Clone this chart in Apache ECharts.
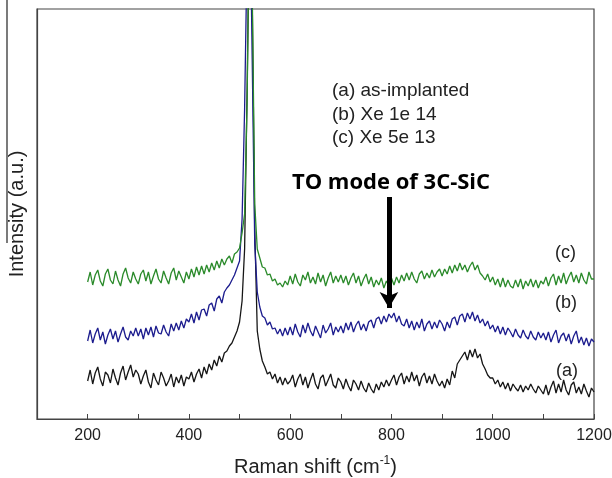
<!DOCTYPE html>
<html>
<head>
<meta charset="utf-8">
<script src="https://cdn.jsdelivr.net/npm/echarts@6/dist/echarts.min.js"></script>
<style>
  html, body { margin: 0; padding: 0; background: #fff; }
  #chart { width: 612px; height: 478px; }
</style>
</head>
<body>
<div id="chart"></div>
<script>
// Raman shift sampling grid (cm-1)
var shiftStart = 200;
var shiftStep = 5;

// intensities (a.u.), one value per 5 cm-1 from 200 to 1200
var specA = [
  38,49,35,46,52,40,33,47,44,36,50,41,34,46,53,39,47,54,42,49,
  45,35,43,49,37,31,46,39,34,47,41,33,38,45,32,42,36,44,33,42,
  40,47,37,45,50,41,52,45,55,49,59,53,63,57,66,68,73,76,82,88,
  97,118,170,330,520,420,190,88,70,58,52,45,47,40,45,36,42,34,41,35,
  38,44,32,40,45,34,42,31,39,46,35,30,41,44,33,39,45,34,31,41,
  37,30,40,33,28,39,35,29,38,31,27,36,30,26,35,29,37,32,39,33,
  39,44,34,42,46,35,43,37,47,38,44,33,42,46,36,43,35,45,38,33,
  38,31,40,34,48,41,55,59,63,67,59,69,62,70,61,65,55,50,44,41,
  41,35,39,32,37,30,36,28,35,31,28,34,27,33,29,35,30,26,33,29,
  25,34,24,32,38,26,35,27,39,29,24,34,37,26,32,25,35,28,22,31,
  27
];
var specB = [
  78,89,76,85,91,79,87,75,84,90,80,88,77,85,92,82,79,88,83,91,
  83,90,80,91,84,92,82,93,86,85,94,87,83,95,88,96,89,98,91,100,
  97,105,96,107,99,109,110,103,114,116,108,120,123,116,127,131,134,139,144,151,
  158,200,310,470,540,360,175,127,112,103,101,94,97,90,91,85,90,83,91,84,
  92,84,95,87,82,94,86,96,88,83,93,87,81,94,86,90,96,84,92,87,
  93,86,96,89,97,87,94,98,89,95,88,97,99,91,100,102,95,103,97,105,
  101,106,97,103,95,93,100,91,98,89,97,91,100,88,95,98,90,97,91,99,
  95,88,97,91,100,102,94,103,105,97,106,100,107,98,104,96,100,93,98,90,
  94,87,93,85,92,84,91,87,82,90,84,81,89,83,80,88,82,79,87,81,
  86,79,87,77,84,89,76,83,86,78,85,75,83,88,76,82,74,81,73,80,
  77
];
var specC = [
  137,147,134,144,149,138,133,145,150,139,135,148,139,133,145,151,141,136,147,140,
  135,145,149,138,147,135,143,150,140,136,148,141,135,146,151,139,148,142,136,147,
  140,150,142,152,144,153,145,154,147,156,149,158,151,160,154,160,163,156,165,167,
  171,186,205,320,540,430,215,170,161,152,151,144,145,138,140,134,136,132,138,134,
  143,135,145,137,133,144,139,147,136,142,135,146,137,144,133,141,147,136,143,137,
  144,136,143,134,141,146,136,143,133,140,145,135,142,132,139,134,141,131,138,133,
  141,134,142,136,144,138,146,139,147,140,136,145,148,140,146,141,149,142,147,150,
  143,150,145,153,146,154,148,156,149,154,147,153,157,149,154,146,143,139,145,137,
  142,134,140,132,141,132,139,133,131,139,132,140,130,138,133,140,132,139,131,138,
  135,142,133,141,145,134,143,136,146,135,142,147,137,144,136,146,139,135,147,140,
  140
];

var sampleNames = ['(a) as-implanted', '(b) Xe 1e 14', '(c) Xe 5e 13'];
var curveTags = ['(a)', '(b)', '(c)'];
var arrowShift = 795;
var arrowFrom = 222;
var arrowTo = 111;

function pairs(vals) {
    var d = [];
    for (var i = 0; i < vals.length; i++) {
        d.push([shiftStart + i * shiftStep, vals[i]]);
    }
    return d;
}

var font = '"Liberation Sans", Arial, sans-serif';
function label(txt, x, y, size) {
    return {
        type: 'text', x: x, y: y,
        style: { text: txt, font: size + 'px ' + font, fill: '#222', align: 'left', verticalAlign: 'middle' }
    };
}

var myChart = echarts.init(document.getElementById('chart'));
var option = {
    animation: false,
    grid: {
        left: 37, right: 18, top: 9, bottom: 59,
        outerBoundsMode: 'none',
        show: true, borderColor: '#444', borderWidth: 1.2
    },
    xAxis: {
        type: 'value',
        min: 100, max: 1200, interval: 100,
        name: 'Raman shift (cm{sup|-1})',
        nameLocation: 'middle',
        nameGap: 36,
        nameTextStyle: {
            fontFamily: font, fontSize: 20, color: '#222',
            rich: { sup: { fontFamily: font, fontSize: 12, color: '#222', padding: [0, 0, 12, 0] } }
        },
        axisLine: { lineStyle: { color: '#444', width: 1.2 } },
        axisTick: { inside: true, length: 5, lineStyle: { color: '#444' } },
        axisLabel: {
            fontFamily: font, fontSize: 16, color: '#222', margin: 9,
            formatter: function (v) { return (v % 200 === 0 && v >= 200) ? v : ''; }
        },
        splitLine: { show: false }
    },
    yAxis: {
        type: 'value',
        min: 0, max: 410,
        name: 'Intensity (a.u.)',
        nameLocation: 'middle',
        nameGap: 10,
        nameTextStyle: { fontFamily: font, fontSize: 20, color: '#222' },
        axisLine: { show: true, lineStyle: { color: '#444', width: 1.2 } },
        axisTick: { show: false },
        axisLabel: { show: false },
        splitLine: { show: false }
    },
    series: [
        {
            name: sampleNames[0], type: 'line', showSymbol: false,
            data: pairs(specA),
            lineStyle: { color: '#161616', width: 1.3 },
            markLine: {
                silent: true,
                symbol: ['none', 'arrow'],
                symbolSize: [14, 16],
                label: { show: false },
                lineStyle: { color: '#000', width: 5, type: 'solid' },
                data: [[{ coord: [arrowShift, arrowFrom] }, { coord: [arrowShift, arrowTo] }]]
            }
        },
        {
            name: sampleNames[1], type: 'line', showSymbol: false,
            data: pairs(specB),
            lineStyle: { color: '#1c1c8e', width: 1.3 }
        },
        {
            name: sampleNames[2], type: 'line', showSymbol: false,
            data: pairs(specC),
            lineStyle: { color: '#2a8a2a', width: 1.3 }
        }
    ],
    graphic: [
        { type: 'line', shape: { x1: 7, y1: 0, x2: 7, y2: 243 }, style: { stroke: '#222', lineWidth: 1.2 } },
        label(sampleNames[0], 332, 91, 19),
        label(sampleNames[1], 332, 115, 19),
        label(sampleNames[2], 332, 138, 19),
        {
            type: 'text', x: 391, y: 183,
            style: { text: 'TO mode of 3C-SiC', font: 'bold 22px "Open Sans", sans-serif', fill: '#000', align: 'center', verticalAlign: 'middle' }
        },
        label(curveTags[2], 555, 253, 18),
        label(curveTags[1], 555, 303, 18),
        label(curveTags[0], 556, 371, 18)
    ]
};
myChart.setOption(option);
</script>
</body>
</html>
